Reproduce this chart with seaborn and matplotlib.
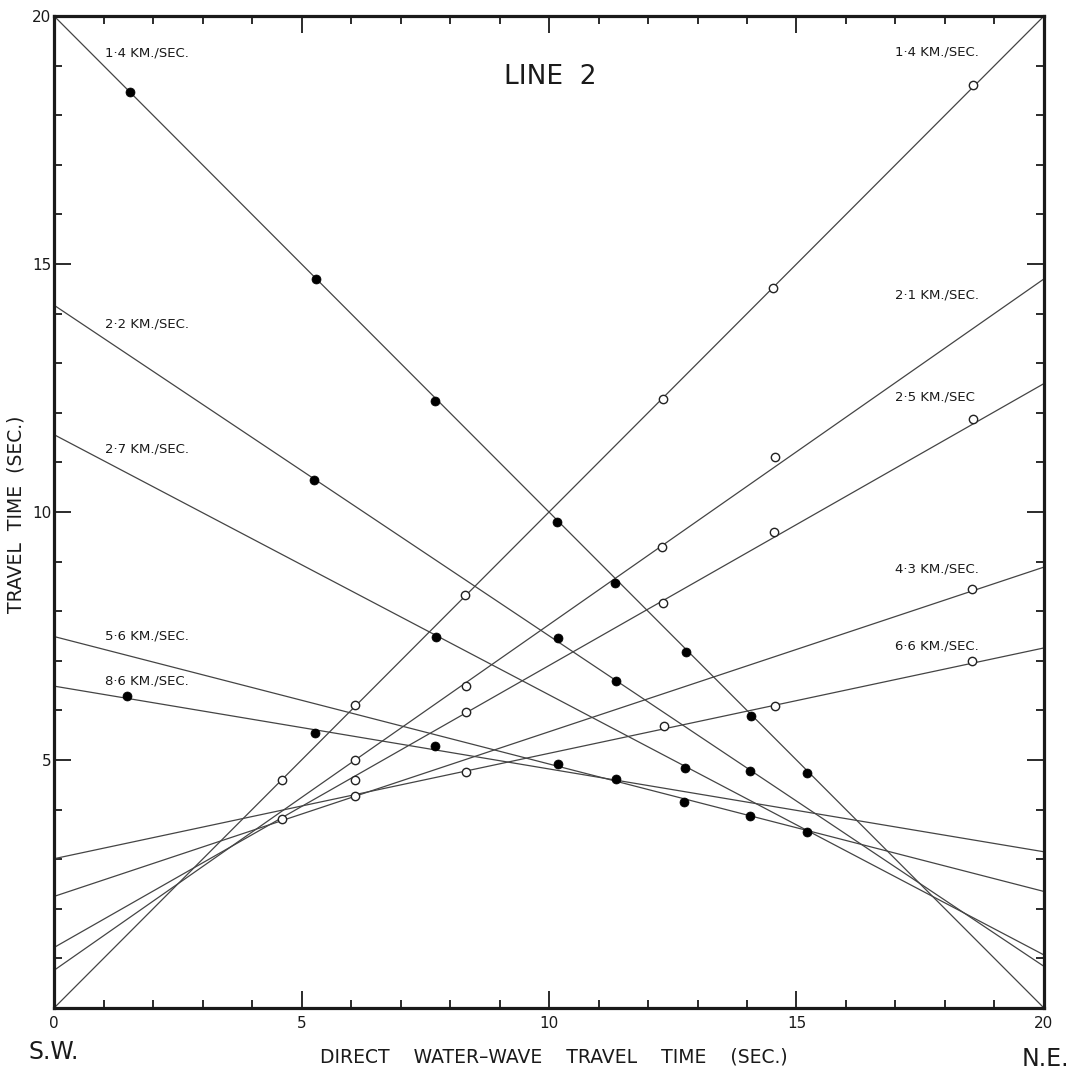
import numpy as np
import pandas as pd
import seaborn as sns
import matplotlib.pyplot as plt
from matplotlib.ticker import MultipleLocator

# apparent velocities and the fitted lines (travel time at x=0 and x=20)
sw_speeds = ["1·4", "2·2", "2·7", "5·6", "8·6"]
sw_at_0 = [20.0, 14.17, 11.56, 7.49, 6.49]
sw_at_20 = [0.0, 0.84, 1.07, 2.35, 3.15]

ne_speeds = ["1·4", "2·1", "2·5", "4·3", "6·6"]
ne_at_0 = [0.0, 0.76, 1.22, 2.25, 3.01]
ne_at_20 = [20.0, 14.70, 12.59, 8.89, 7.26]

# observed arrivals, S.W. shots (filled) and N.E. shots (open)
sw_obs_x = [1.53, 5.29, 7.70, 10.17, 11.34, 12.76, 14.08, 15.22,
            5.26, 10.18, 11.36, 14.07, 7.72, 12.74,
            1.48, 5.28, 7.70, 10.19, 11.35, 12.72, 14.06, 15.21]
sw_obs_y = [18.47, 14.69, 12.23, 9.79, 8.57, 7.18, 5.89, 4.73,
            10.64, 7.46, 6.59, 4.77, 7.48, 4.84,
            6.29, 5.55, 5.28, 4.92, 4.62, 4.16, 3.87, 3.55]
ne_obs_x = [4.60, 6.08, 8.30, 12.30, 14.53, 18.57,
            6.09, 8.33, 12.29, 14.56,
            6.09, 8.32, 12.30, 14.55, 18.56,
            4.61, 6.09, 18.55,
            8.33, 12.32, 14.57, 18.54]
ne_obs_y = [4.59, 6.11, 8.32, 12.28, 14.52, 18.60,
            5.00, 6.49, 9.29, 11.10,
            4.60, 5.97, 8.17, 9.59, 11.87,
            3.81, 4.28, 8.44,
            4.76, 5.68, 6.08, 7.00]

# where the velocity labels sit
sw_label_y = [19.26, 13.79, 11.28, 7.51, 6.60]
ne_label_y = [19.28, 14.37, 12.31, 8.85, 7.29]

x_ticks = [0, 5, 10, 15, 20]
y_ticks = [0, 5, 10, 15, 20]
y_tick_labels = ["", "5", "10", "15", "20"]

ink = "#1a1a1a"

rows = []
for i, sp in enumerate(sw_speeds):
    rows.append(("sw" + sp, 0, sw_at_0[i]))
    rows.append(("sw" + sp, 20, sw_at_20[i]))
for i, sp in enumerate(ne_speeds):
    rows.append(("ne" + sp, 0, ne_at_0[i]))
    rows.append(("ne" + sp, 20, ne_at_20[i]))
lines = pd.DataFrame(rows, columns=["line", "x", "t"])

sns.set_style("white")
plt.rcParams['font.family'] = ['DejaVu Sans']

fig = plt.figure(figsize=(10.85, 10.75), dpi=100)
ax = fig.add_axes([0.0498, 0.0623, 0.9124, 0.9228])

sns.lineplot(data=lines, x="x", y="t", units="line", estimator=None,
             color="#444444", linewidth=0.9, ax=ax, legend=False)
sns.scatterplot(x=sw_obs_x, y=sw_obs_y, s=42, color="black",
                edgecolor="black", linewidth=0.5, zorder=3, ax=ax)
sns.scatterplot(x=ne_obs_x, y=ne_obs_y, s=36, facecolor="white",
                edgecolor="#222222", linewidth=1.0, zorder=3, ax=ax)

for sp, y in zip(sw_speeds, sw_label_y):
    ax.text(1.02, y, sp + " KM./SEC.", fontsize=9.5, color=ink,
            ha="left", va="center")
for sp, y in zip(ne_speeds, ne_label_y):
    txt = sp + " KM./SEC." if sp != "2·5" else sp + " KM./SEC"
    ax.text(17.0, y, txt, fontsize=9.5, color=ink, ha="left", va="center")

ax.text(10.03, 18.77, "LINE  2", fontsize=19, color=ink,
        ha="center", va="center")

ax.set_xlim(0, 20)
ax.set_ylim(0, 20)
ax.set_xticks(x_ticks)
ax.set_yticks(y_ticks, labels=y_tick_labels)
ax.xaxis.set_minor_locator(MultipleLocator(1))
ax.yaxis.set_minor_locator(MultipleLocator(1))
ax.tick_params(which="both", direction="in", top=True, right=True,
               bottom=True, left=True,
               color=ink, width=1.3, labelcolor=ink, labelsize=11)
ax.tick_params(which="major", length=12)
ax.tick_params(which="minor", length=6)
ax.tick_params(axis="x", pad=6)
ax.tick_params(axis="y", pad=2)
for s in ax.spines.values():
    s.set_linewidth(2.3)
    s.set_color(ink)

ax.set_xlabel("DIRECT    WATER–WAVE    TRAVEL    TIME    (SEC.)",
              fontsize=13.5, color=ink, va="top")
ax.xaxis.set_label_coords(0.505, -0.040)
ax.set_ylabel("TRAVEL  TIME  (SEC.)", fontsize=13.5, color=ink)
ax.yaxis.set_label_coords(-0.029, 0.498)

fig.text(0.0498, 0.0216, "S.W.", fontsize=17, color=ink,
         ha="center", va="center")
fig.text(0.9636, 0.0153, "N.E.", fontsize=17, color=ink,
         ha="center", va="center")

fig.savefig("out.png", dpi=100, facecolor="white")
